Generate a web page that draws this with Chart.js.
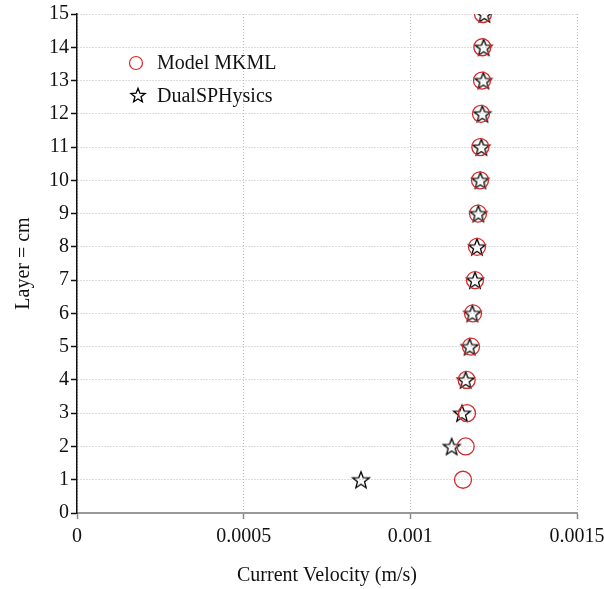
<!DOCTYPE html>
<html>
<head>
<meta charset="utf-8">
<script src="https://cdn.jsdelivr.net/npm/chart.js@4/dist/chart.umd.min.js"></script>
<style>
  body { margin: 0; background: #fff; }
  canvas { display: block; }
</style>
</head>
<body>
<canvas id="velChart" width="604" height="589"></canvas>
<script>
// layers (cm) and current velocity (m/s)
const layers = [1, 2, 3, 4, 5, 6, 7, 8, 9, 10, 11, 12, 13, 14, 15];
const modelVel = [0.001158, 0.001166, 0.001170, 0.001169, 0.001182, 0.001188, 0.001194, 0.001200,
                  0.001203, 0.001209, 0.001210, 0.001212, 0.001215, 0.001216, 0.001218];
const sphVel = [0.000852, 0.001124, 0.001155, 0.001166, 0.001178, 0.001186, 0.001194, 0.001200,
                0.001204, 0.001210, 0.001213, 0.001216, 0.001219, 0.001220, 0.001222];
const seriesNames = ['Model MKML', 'DualSPHysics'];
const xTicks = [0, 0.0005, 0.001, 0.0015];
const xTickLabels = ['0', '0.0005', '0.001', '0.0015'];

const serif = '"Liberation Serif", "Times New Roman", serif';
const red = '#d42a2a';

// five point star outline used as point style
function makeStar(size, outer, inner) {
    const c = document.createElement('canvas');
    c.width = size; c.height = size;
    const g = c.getContext('2d');
    const cx = size / 2, cy = size / 2 + 0.8;
    g.beginPath();
    for (let i = 0; i < 10; i++) {
        const r = i % 2 === 0 ? outer : inner;
        const a = -Math.PI / 2 + i * Math.PI / 5;
        const px = cx + r * Math.cos(a), py = cy + r * Math.sin(a);
        if (i === 0) g.moveTo(px, py); else g.lineTo(px, py);
    }
    g.closePath();
    g.lineWidth = 1.3;
    g.lineJoin = 'miter';
    g.strokeStyle = '#000';
    g.stroke();
    return c;
}
const starBig = makeStar(22, 8.8, 3.7);
const starSmall = makeStar(18, 7.5, 3.2);

// legend drawn inside the plot area, top left
const insideLegend = {
    id: 'insideLegend',
    afterDatasetsDraw(chart) {
        const ctx = chart.ctx;
        const a = chart.chartArea;
        const x0 = a.left + 59, y0 = a.top + 49;
        ctx.save();
        ctx.beginPath();
        ctx.arc(x0, y0, 6.5, 0, Math.PI * 2);
        ctx.lineWidth = 1.2;
        ctx.strokeStyle = red;
        ctx.stroke();
        ctx.drawImage(starSmall, x0 + 2 - 9, y0 + 32 - 9);
        ctx.fillStyle = '#111';
        ctx.font = '20px ' + serif;
        ctx.textBaseline = 'middle';
        ctx.fillText(seriesNames[0], x0 + 21, y0 + 1);
        ctx.fillText(seriesNames[1], x0 + 21, y0 + 34);
        ctx.restore();
    }
};

const ctx = document.getElementById('velChart').getContext('2d');
const velChart = new Chart(ctx, {
    type: 'scatter',
    data: {
        datasets: [{
            label: seriesNames[0],
            data: layers.map((l, i) => ({ x: modelVel[i], y: l })),
            pointStyle: 'circle',
            pointRadius: 8.5,
            pointHoverRadius: 8.5,
            borderColor: red,
            borderWidth: 1.3,
            backgroundColor: 'rgba(0,0,0,0)'
        }, {
            label: seriesNames[1],
            data: layers.map((l, i) => ({ x: sphVel[i], y: l })),
            pointStyle: starBig,
            pointRadius: 9,
            borderColor: '#000',
            backgroundColor: 'rgba(0,0,0,0)'
        }]
    },
    options: {
        responsive: false,
        animation: false,
        layout: { padding: { top: 14, right: 27, left: 0, bottom: 0 } },
        plugins: { legend: { display: false }, tooltip: { enabled: false } },
        scales: {
            x: {
                type: 'linear',
                min: 0,
                max: 0.0015,
                afterBuildTicks: s => { s.ticks = xTicks.map(v => ({ value: v })); },
                afterFit: s => { s.height = 76; s.paddingRight = 27; },
                ticks: {
                    callback: (v, i) => xTickLabels[i],
                    font: { family: serif, size: 20 },
                    color: '#111',
                    padding: 6,
                    maxRotation: 0
                },
                grid: { color: '#bbb', lineWidth: 1, tickLength: 6, tickColor: '#888', tickWidth: 1.5 },
                border: { color: '#999', width: 2, dash: [1, 2] },
                title: {
                    display: true,
                    text: 'Current Velocity (m/s)',
                    font: { family: serif, size: 20 },
                    color: '#111',
                    padding: { top: 0, bottom: 1 }
                }
            },
            y: {
                type: 'linear',
                min: 0,
                max: 15,
                afterFit: s => { s.width = 77; },
                ticks: {
                    stepSize: 1,
                    font: { family: serif, size: 20 },
                    color: '#111',
                    padding: 2
                },
                grid: { color: '#bbb', lineWidth: 1, tickLength: 6, tickColor: '#111', tickWidth: 1.5 },
                border: { color: '#111', width: 1.5, dash: [1, 2] },
                title: {
                    display: true,
                    text: 'Layer = cm',
                    font: { family: serif, size: 20 },
                    color: '#111',
                    padding: { top: 12, bottom: 0 }
                }
            }
        }
    },
    plugins: [insideLegend]
});
</script>
</body>
</html>
